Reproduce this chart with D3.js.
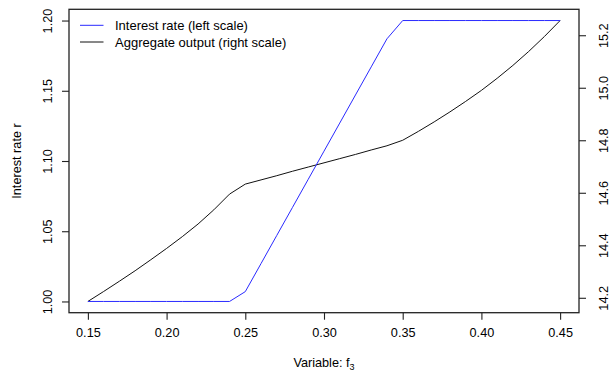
<!DOCTYPE html>
<html>
<head>
<meta charset="utf-8">
<script src="https://cdn.jsdelivr.net/npm/d3@7"></script>
<style>
body { margin: 0; background: #fff; }
text { font-family: "Liberation Sans", Arial, sans-serif; }
</style>
</head>
<body>
<script>
// values
var fValues = [0.15, 0.16, 0.17, 0.18, 0.19, 0.20, 0.21, 0.22, 0.23, 0.24,
               0.25, 0.26, 0.27, 0.28, 0.29, 0.30, 0.31, 0.32, 0.33, 0.34,
               0.35, 0.36, 0.37, 0.38, 0.39, 0.40, 0.41, 0.42, 0.43, 0.44, 0.45];
var rateValues = [1.000, 1.000, 1.000, 1.000, 1.000, 1.000, 1.000, 1.000, 1.000, 1.000,
                  1.007, 1.027, 1.047, 1.067, 1.087, 1.107, 1.127, 1.147, 1.167, 1.187,
                  1.200, 1.200, 1.200, 1.200, 1.200, 1.200, 1.200, 1.200, 1.200, 1.200, 1.200];
var outputValues = [14.186, 14.224, 14.263, 14.303, 14.345, 14.388, 14.433, 14.481, 14.535, 14.595,
                    14.633, 14.649, 14.665, 14.682, 14.698, 14.714, 14.730, 14.746, 14.763, 14.779,
                    14.800, 14.834, 14.870, 14.908, 14.948, 14.990, 15.036, 15.085, 15.138, 15.195, 15.256];
var xTicks = [0.15, 0.20, 0.25, 0.30, 0.35, 0.40, 0.45];
var leftTicks = [1.00, 1.05, 1.10, 1.15, 1.20];
var rightTicks = [14.2, 14.4, 14.6, 14.8, 15.0, 15.2];
var legendLabels = ["Interest rate (left scale)", "Aggregate output (right scale)"];

var width = 610, height = 378;
var margin = {top: 9.3, right: 31, bottom: 65.3, left: 69};

// R style 4% padding of the data range
function pad(ext) {
    var d = (ext[1] - ext[0]) * 0.04;
    return [ext[0] - d, ext[1] + d];
}

var svg = d3.select("body").append("svg")
    .attr("width", width)
    .attr("height", height)

var x = d3.scaleLinear()
    .domain(pad(d3.extent(fValues)))
    .range([margin.left, width - margin.right])
var yLeft = d3.scaleLinear()
    .domain(pad(d3.extent(rateValues)))
    .range([height - margin.bottom, margin.top])
var yRight = d3.scaleLinear()
    .domain(pad(d3.extent(outputValues)))
    .range([height - margin.bottom, margin.top])

var axisColor = "#222";

// lines
var rateLine = d3.line()
    .x(function(d, i){ return x(fValues[i]); })
    .y(function(d){ return yLeft(d); })
var outLine = d3.line()
    .x(function(d, i){ return x(fValues[i]); })
    .y(function(d){ return yRight(d); })

svg.append("path")
    .datum(outputValues)
    .attr("d", outLine)
    .attr("fill", "none")
    .attr("stroke", "#111")
    .attr("stroke-width", 1)
svg.append("path")
    .datum(rateValues)
    .attr("d", rateLine)
    .attr("fill", "none")
    .attr("stroke", "#2a2aff")
    .attr("stroke-width", 1)

// box
svg.append("rect")
    .attr("x", margin.left)
    .attr("y", margin.top)
    .attr("width", width - margin.left - margin.right)
    .attr("height", height - margin.top - margin.bottom)
    .attr("fill", "none")
    .attr("stroke", axisColor)
    .attr("stroke-width", 1.3)

// axes
var bottomAxis = svg.append("g")
    .attr("transform", "translate(0," + (height - margin.bottom) + ")")
    .call(d3.axisBottom(x).tickValues(xTicks).tickFormat(d3.format(".2f")).tickSizeOuter(0).tickSize(7).tickPadding(8))
var leftAxis = svg.append("g")
    .attr("transform", "translate(" + margin.left + ",0)")
    .call(d3.axisLeft(yLeft).tickValues(leftTicks).tickFormat(d3.format(".2f")).tickSizeOuter(0).tickSize(7))
var rightAxis = svg.append("g")
    .attr("transform", "translate(" + (width - margin.right) + ",0)")
    .call(d3.axisRight(yRight).tickValues(rightTicks).tickFormat(d3.format(".1f")).tickSizeOuter(0).tickSize(7))

;[bottomAxis, leftAxis, rightAxis].forEach(function(g){
    g.select(".domain").remove();
    g.selectAll(".tick line").attr("stroke", axisColor).attr("stroke-width", 1.1);
    g.selectAll(".tick text")
        .attr("fill", "#000")
        .attr("font-size", 12.7)
        .style("font-family", "Liberation Sans, Arial, sans-serif");
});

// rotated y tick labels, like R's default las=0
leftAxis.selectAll(".tick text")
    .attr("x", null).attr("dy", null)
    .attr("text-anchor", "middle")
    .attr("transform", "translate(-17,0) rotate(-90)")
rightAxis.selectAll(".tick text")
    .attr("x", null).attr("dy", null)
    .attr("text-anchor", "middle")
    .attr("transform", "translate(29,0) rotate(-90)")

// axis titles
var xTitle = svg.append("text")
    .attr("x", (margin.left + width - margin.right) / 2)
    .attr("y", 366.5)
    .attr("text-anchor", "middle")
    .attr("font-size", 12.7)
xTitle.append("tspan").text("Variable: f")
xTitle.append("tspan")
    .attr("font-size", 9)
    .attr("dy", 3)
    .text("3")

svg.append("text")
    .attr("transform", "translate(20.5," + ((margin.top + height - margin.bottom) / 2) + ") rotate(-90)")
    .attr("text-anchor", "middle")
    .attr("font-size", 12.7)
    .text("Interest rate r")

// legend
var legendColors = ["#2a2aff", "#111"];
var legendY = [25.3, 42];
for (var ii = 0; ii < legendLabels.length; ii++) {
    svg.append("line")
        .attr("x1", 80).attr("x2", 103.5)
        .attr("y1", legendY[ii]).attr("y2", legendY[ii])
        .attr("stroke", legendColors[ii])
        .attr("stroke-width", 1)
    svg.append("text")
        .attr("x", 115)
        .attr("y", legendY[ii])
        .attr("dy", "0.35em")
        .attr("font-size", 13)
        .text(legendLabels[ii])
}
</script>
</body>
</html>
